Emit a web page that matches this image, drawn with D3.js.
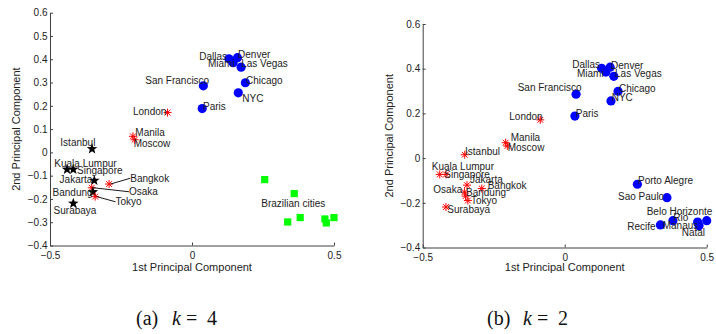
<!DOCTYPE html>
<html>
<head>
<meta charset="utf-8">
<script src="https://cdn.jsdelivr.net/npm/d3@7"></script>
<style>
  html, body { margin: 0; padding: 0; background: #fff; }
  svg { display: block; }
  .tick text { font-family: "Liberation Sans", Arial, sans-serif; font-size: 10px; fill: #222; }
  .axis path, .axis line { stroke: #404040; stroke-width: 1; }
  .city { font-family: "Liberation Sans", Arial, sans-serif; font-size: 10px; fill: #222; }
  .title { font-family: "Liberation Sans", Arial, sans-serif; font-size: 11px; fill: #222; }
  .caption { font-family: "Liberation Serif", "Times New Roman", serif; font-size: 20px; fill: #111; }
</style>
</head>
<body>
<svg id="chart" width="716" height="334"></svg>
<script>
// City projections on the first two principal components
const cities = [
  "Istanbul", "Manila", "Moscow", "London", "Kuala Lumpur", "Singapore",
  "Jakarta", "Osaka", "Bandung", "Tokyo", "Bangkok", "Surabaya",
  "Dallas", "Denver", "Miami", "Las Vegas", "San Francisco", "Chicago",
  "NYC", "Paris",
  "Porto Alegre", "Sao Paulo", "Belo Horizonte", "Rio", "Recife", "Manaus", "Natal"
];
const pc1 = [
  -0.352, -0.208, -0.202, -0.086, -0.440, -0.418,
  -0.344, -0.353, -0.349, -0.341, -0.292, -0.418,
   0.130,  0.160,  0.145,  0.173,  0.040,  0.188,
   0.163,  0.036,
   0.256,  0.360,  0.500,  0.381,  0.337,  0.468,  0.473
];
const pc2 = [
   0.015,  0.069,  0.054,  0.171, -0.073, -0.073,
  -0.121, -0.152, -0.170, -0.190, -0.136, -0.219,
   0.402,  0.407,  0.385,  0.366,  0.286,  0.299,
   0.256,  0.188,
  -0.117, -0.177, -0.280, -0.280, -0.299, -0.286, -0.303
];
// Cluster assignments
const clusterK4 = [0,1,1,1,0,0, 0,1,0,1,1,0, 2,2,2,2,2,2, 2,2, 3,3,3,3,3,3,3];
const clusterK2 = [0,0,0,0,0,0, 0,0,0,0,0,0, 1,1,1,1,1,1, 1,1, 1,1,1,1,1,1,1];

const xTicks = [-0.5, 0, 0.5];
const yTicksK4 = [-0.4, -0.3, -0.2, -0.1, 0, 0.1, 0.2, 0.3, 0.4, 0.5, 0.6];
const yTicksK2 = [-0.4, -0.2, 0, 0.2, 0.4, 0.6];
const groupNote = { text: "Brazilian cities", pc1: 0.244, pc2: -0.234 };

const rows = cities.map((name, i) => ({ name, x: pc1[i], y: pc2[i], k4: clusterK4[i], k2: clusterK2[i] }));

// Label placement (pixel offsets of text start/baseline from the marker)
const labelsK4 = {
  "Istanbul": [-31.7, -2.7], "Manila": [2.4, 0], "Moscow": [-1, 7.5], "London": [-34.6, 2.5],
  "Kuala Lumpur": [-12.7, -2.1], "Singapore": [3.7, 4.4], "Jakarta": [-34.7, 2.2],
  "Osaka": [37.2, 7.5, true], "Bandung": [-40.3, 4.4], "Tokyo": [20.4, 8.7, true],
  "Bangkok": [21.2, -2.3, true], "Surabaya": [-19.7, 10.2],
  "Dallas": [-29.6, 1.6], "Denver": [0.6, 0.7], "Miami": [-25.2, 4.6], "Las Vegas": [0, 0.2],
  "San Francisco": [-58.1, -1.6], "Chicago": [0.6, 1.2], "NYC": [4, 9.2], "Paris": [0.8, 1.4]
};
const labelsK2 = {
  "Istanbul": [0.3, 0.3], "Manila": [5.1, -1.9], "Moscow": [0.4, 4.8], "London": [-31, 0.2],
  "Kuala Lumpur": [-8, -4.3], "Singapore": [-1.7, 3.1], "Jakarta": [3, -2.6],
  "Osaka": [-31.1, 0.5], "Bandung": [0.4, -0.3], "Tokyo": [3.1, 3.6],
  "Bangkok": [5.9, 0.6], "Surabaya": [1.3, 5.5],
  "Dallas": [-29.3, -0.5], "Denver": [0.9, 1.6], "Miami": [-28.9, 5.4], "Las Vegas": [1.2, 1.1],
  "San Francisco": [-58.4, -3.1], "Chicago": [0.9, 1.2], "NYC": [0.7, 0.2], "Paris": [0.8, 1],
  "Porto Alegre": [0.6, 0.1], "Sao Paulo": [-48.9, 2.7], "Belo Horizonte": [-60, -5.3],
  "Rio": [0.4, 0.7], "Recife": [-33.1, 5.4], "Manaus": [-34.9, 6.8], "Natal": [-17.3, 10]
};

const svg = d3.select("#chart");

function starPath(ro, ri) {
  const pts = [];
  for (let i = 0; i < 10; i++) {
    const r = i % 2 === 0 ? ro : ri;
    const a = -Math.PI / 2 + i * Math.PI / 5;
    pts.push([r * Math.cos(a), r * Math.sin(a)]);
  }
  return "M" + pts.map(p => p[0].toFixed(2) + "," + p[1].toFixed(2)).join("L") + "Z";
}

function drawMarker(g, kind) {
  if (kind === "star") {
    g.append("path").attr("d", starPath(5.6, 2.3)).attr("fill", "#000");
  } else if (kind === "asterisk") {
    const s = 4, d = 2.9;
    const lines = [[-s, 0, s, 0], [0, -s, 0, s], [-d, -d, d, d], [-d, d, d, -d]];
    lines.forEach(l => g.append("line")
      .attr("x1", l[0]).attr("y1", l[1]).attr("x2", l[2]).attr("y2", l[3])
      .attr("stroke", "#ff0000").attr("stroke-width", 1));
  } else if (kind === "circle") {
    g.append("circle").attr("r", 4.6).attr("fill", "#0000ff");
  } else if (kind === "square") {
    g.append("rect").attr("x", -3.6).attr("y", -3.6).attr("width", 7.2).attr("height", 7.2).attr("fill", "#00ff00");
  }
}

function tickFmt(d) { return d === 0 ? "0" : d3.format(".1f")(d); }

function panel(opt) {
  const x = d3.scaleLinear().domain([-0.5, 0.5]).range(opt.xRange);
  const y = d3.scaleLinear().domain([-0.4, 0.6]).range(opt.yRange);
  const g = svg.append("g");

  g.append("g").attr("class", "axis")
    .attr("transform", `translate(0,${opt.yRange[0]})`)
    .call(d3.axisBottom(x).tickValues(xTicks).tickFormat(tickFmt).tickSizeInner(-3).tickSizeOuter(0).tickPadding(6))
    .call(s => s.selectAll(".tick text").attr("font-family", null).attr("font-size", null));
  g.append("g").attr("class", "axis")
    .attr("transform", `translate(${opt.xRange[0]},0)`)
    .call(d3.axisLeft(y).tickValues(opt.yTicks).tickFormat(tickFmt).tickSizeInner(-3).tickSizeOuter(0).tickPadding(2.5))
    .call(s => s.selectAll(".tick text").attr("font-family", null).attr("font-size", null));
  g.selectAll(".axis").attr("fill", null).attr("font-family", null).attr("font-size", null);

  const xm = (opt.xRange[0] + opt.xRange[1]) / 2;
  const ym = (opt.yRange[0] + opt.yRange[1]) / 2;
  g.append("text").attr("class", "title").attr("x", xm).attr("y", 270.5)
    .attr("text-anchor", "middle").text("1st Principal Component");
  g.append("text").attr("class", "title")
    .attr("transform", `translate(${opt.yTitleX},${ym}) rotate(-90)`)
    .attr("text-anchor", "middle").text("2nd Principal Component");

  // markers
  rows.forEach(r => {
    const m = g.append("g").attr("transform", `translate(${x(r.x)},${y(r.y)})`);
    drawMarker(m, opt.markers[opt.cluster(r)]);
  });

  // labels and leader lines
  rows.forEach(r => {
    const lab = opt.labels[r.name];
    if (!lab) return;
    const px = x(r.x), py = y(r.y);
    const tx = px + lab[0], ty = py + lab[1];
    if (lab[2]) {
      g.append("line").attr("x1", px + 1.5).attr("y1", py).attr("x2", tx).attr("y2", ty - 3.5)
        .attr("stroke", "#000").attr("stroke-width", 0.9);
    }
    g.append("text").attr("class", "city").attr("x", tx).attr("y", ty).text(r.name);
  });

  if (opt.note) {
    g.append("text").attr("class", "city")
      .attr("x", x(opt.note.pc1)).attr("y", y(opt.note.pc2)).text(opt.note.text);
  }

  // caption
  const c = g.append("text").attr("class", "caption").attr("y", 325);
  c.append("tspan").attr("x", opt.capX).text(opt.capTag);
  c.append("tspan").attr("x", opt.capX + 36).attr("font-style", "italic").text("k");
  c.append("tspan").attr("x", opt.capX + 50).text("=");
  c.append("tspan").attr("x", opt.capX + 71).text(opt.capK);
}

panel({
  xRange: [50, 334], yRange: [245.5, 12.7], yTicks: yTicksK4, yTitleX: 19.5,
  cluster: r => r.k4, markers: ["star", "asterisk", "circle", "square"],
  labels: labelsK4, note: groupNote, capX: 136, capTag: "(a)", capK: "4"
});
panel({
  xRange: [422.7, 706.7], yRange: [247.5, 24], yTicks: yTicksK2, yTitleX: 393,
  cluster: r => r.k2, markers: ["asterisk", "circle"],
  labels: labelsK2, note: null, capX: 487, capTag: "(b)", capK: "2"
});
</script>
</body>
</html>
